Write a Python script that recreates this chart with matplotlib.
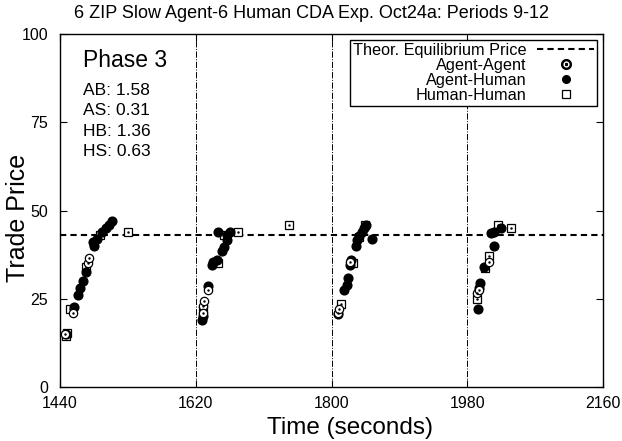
"""Trade prices for the Oct24a CDA experiment, periods 9-12."""
import matplotlib
matplotlib.use("Agg")
from matplotlib import pyplot as plt
from matplotlib.lines import Line2D

plt.rcParams['font.family'] = ['Liberation Sans', 'DejaVu Sans']

# Trade times (s) and prices, by who traded with whom
aa_time = [1447, 1457, 1477, 1478,
           1629, 1629, 1631, 1636,
           1808, 1810, 1825,
           1993, 1995, 2009]
aa_price = [15, 21, 35, 36.5,
            23, 21, 24.5, 27.5,
            21, 22, 35.5,
            26.5, 27.5, 35.5]
ah_time = [1448, 1459, 1464, 1466, 1470, 1474, 1484, 1485, 1489, 1496, 1501, 1505, 1509,
           1628, 1629, 1636, 1642, 1643, 1648, 1655, 1658, 1661, 1650, 1665, 1662,
           1809, 1817, 1820, 1822, 1824, 1826, 1832, 1834, 1837, 1840, 1843, 1846, 1854,
           1994, 1996, 1997, 2002, 2016, 2012, 2016, 2025]
ah_price = [15, 22.7, 26, 28, 30, 32.5, 41, 40, 42, 44, 45, 46, 47,
            19, 20, 28.5, 34.5, 35.5, 36, 38.5, 39.7, 41.6, 44, 44, 43,
            20.8, 27.5, 29, 31, 34.6, 36, 40, 41.6, 42.8, 44, 45, 46, 42,
            22, 28, 29.5, 34, 40, 43.6, 44, 45]
hh_time = [1448, 1449, 1453, 1474, 1493, 1530,
           1630, 1649, 1658, 1676, 1744,
           1812, 1828, 1836, 1844,
           1993, 2004, 2009, 2021, 2038]
hh_price = [14.4, 15.3, 22, 34, 43, 44,
            22, 35, 43, 44, 46,
            23.5, 35, 42.5, 46,
            25, 33.7, 37, 46, 45]

period_starts = [1620, 1800, 1980]
equilibrium = 43
phase_label = "Phase 3"
stats = ["AB: 1.58", "AS: 0.31", "HB: 1.36", "HS: 0.63"]


def plot_prices():
    """Draws the trade price chart and saves it"""
    fig = plt.figure(figsize=(6.22, 4.41), dpi=100)
    ax = fig.add_axes([0.0965, 0.1224, 0.873, 0.8005])

    for start in period_starts:
        ax.axvline(start, color='black', linestyle='-.', linewidth=0.7, zorder=1)
    ax.axhline(equilibrium, color='black', linestyle=(0, (3, 2)), linewidth=1.5, zorder=2)

    ax.plot(hh_time, hh_price, linestyle='none', marker='s', ms=6, mfc='white',
            mec='black', mew=0.9, zorder=3)
    ax.plot(hh_time, hh_price, linestyle='none', marker='.', ms=1.5, color='black', zorder=3)
    ax.plot(ah_time, ah_price, linestyle='none', marker='o', ms=6.3, color='black', zorder=4)
    ax.plot(aa_time, aa_price, linestyle='none', marker='o', ms=6, mfc='white',
            mec='black', mew=0.9, zorder=5)
    ax.plot(aa_time, aa_price, linestyle='none', marker='.', ms=1.5, color='black', zorder=5)

    ax.set_xlim(1440, 2160)
    ax.set_ylim(0, 100)
    ax.set_xticks([1440, 1620, 1800, 1980, 2160])
    ax.set_yticks([0, 25, 50, 75, 100])
    ax.tick_params(direction='in', top=True, right=True, labelsize=11.5, length=5)
    ax.tick_params(axis='y', pad=8.5)
    ax.tick_params(axis='x', pad=6.5)
    for side in ax.spines.values():
        side.set_linewidth(1.0)

    ax.set_xlabel('Time (seconds)', fontsize=17.5, va='baseline')
    ax.xaxis.set_label_coords(0.534, -0.132)
    ax.set_ylabel('Trade Price', fontsize=18, va='center')
    ax.yaxis.set_label_coords(-0.077, 0.48)
    fig.text(0.5, 1 - 18 / 441, '6 ZIP Slow Agent-6 Human CDA Exp. Oct24a: Periods 9-12',
             fontsize=13, ha='center', va='baseline')

    ax.text(0.042, 0.925, phase_label, transform=ax.transAxes, fontsize=16.5, va='center')
    for i, line in enumerate(stats):
        ax.text(0.042, 0.84 - i * 0.058, line, transform=ax.transAxes, fontsize=12.5,
                va='center')

    #Legend in the style of the original: text first, then the symbol
    handles = [Line2D([], [], color='black', linestyle=(0, (3, 2)), linewidth=1.5),
               Line2D([], [], linestyle='none', marker='$\\odot$', ms=7, color='black'),
               Line2D([], [], linestyle='none', marker='o', ms=5.5, color='black'),
               Line2D([], [], linestyle='none', marker='s', ms=5.5, mfc='white',
                      mec='black', mew=0.9)]
    labels = ['Theor. Equilibrium Price', 'Agent-Agent', 'Agent-Human', 'Human-Human']
    leg = ax.legend(handles, labels, loc='upper right', markerfirst=False, fontsize=11.7,
                    fancybox=False, edgecolor='black', framealpha=1, handlelength=3.5,
                    labelspacing=0.0, borderpad=0.2, handletextpad=0.65,
                    borderaxespad=0.35)
    leg.get_frame().set_linewidth(1.0)

    fig.savefig('out.png', dpi=100)


if __name__ == '__main__':
    plot_prices()
